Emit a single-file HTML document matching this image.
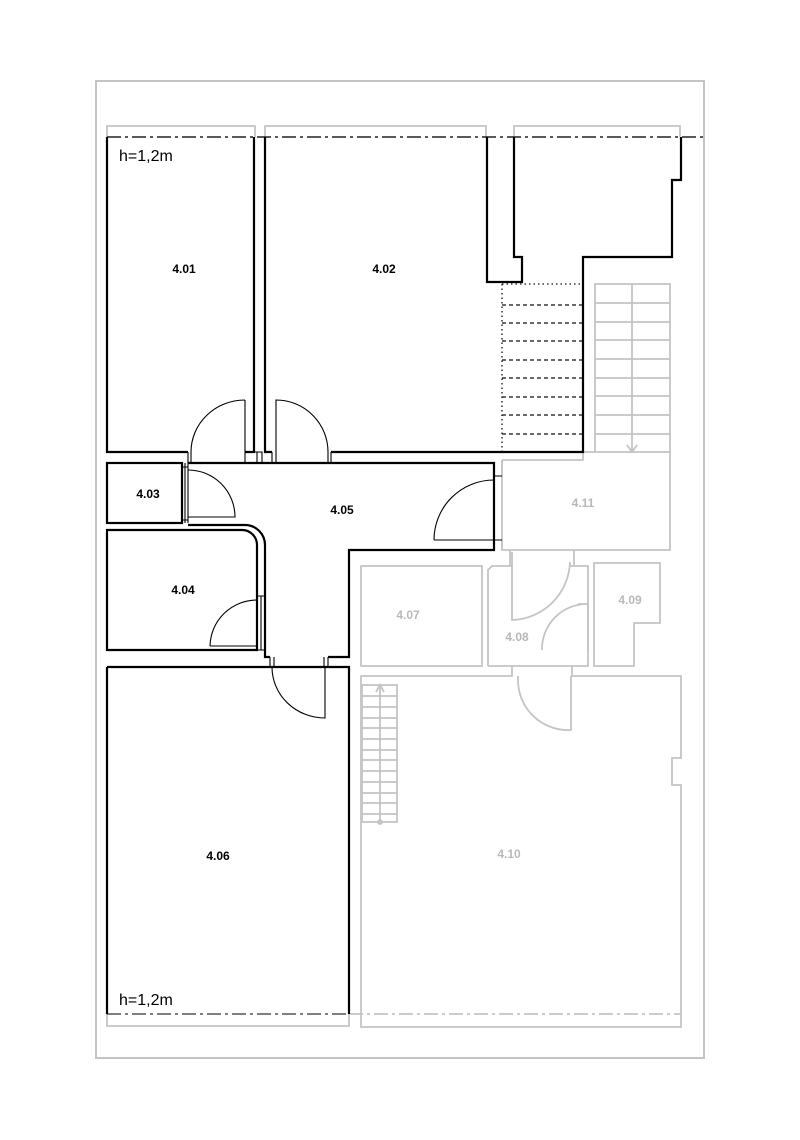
<!DOCTYPE html>
<html><head><meta charset="utf-8"><style>html,body{margin:0;padding:0;background:#fff}svg{display:block}</style></head>
<body>
<svg width="800" height="1140" viewBox="0 0 800 1140" xmlns="http://www.w3.org/2000/svg" font-family="Liberation Sans, sans-serif">
<rect x="96" y="81" width="608" height="977" fill="none" stroke="#c4c4c4" stroke-width="2"/>
<g fill="none" stroke="#c4c4c4" stroke-width="1.8">
<path d="M107 137V126H255V137M265 137V126H486V137M514 137V126H680V137"/>
<path d="M107 1014V1026H349V1014"/>
<rect x="595" y="284" width="75" height="168"/>
<path d="M595 303H670M595 322H670M595 340H670M595 359H670M595 378H670M595 396H670M595 415H670M595 434H670"/>
<path d="M632 284V452M627 445L632 452L637 445"/>
<path d="M583 452H595M502 460H583V452M670 452V550H502V460"/>
<path d="M502 460V476M502 540V550"/>
<rect x="361" y="566" width="121" height="100"/>
<path d="M488 666V570L492 566H512M570 566H588V666H488"/>
<path d="M510 550V566M574 550V566"/>
<path d="M512 552V620A60 60 0 0 0 570 562"/>
<path d="M588 604V650M588 604H578M542 650A45 45 0 0 1 588 604"/>
<path d="M594 666V563H660V623H634V666Z"/>
<path d="M572 666V676H681V758H672V785H681V1027H361V676H512V666"/>
<path d="M518 676V680A50 50 0 0 0 571 730V676"/>
<rect x="362" y="685" width="35" height="137"/>
<path d="M362 696H397M362 707H397M362 718H397M362 728H397M362 739H397M362 750H397M362 760H397M362 771H397M362 782H397M362 793H397M362 803H397M362 814H397"/>
<path d="M380 822V685M376 692L380 685L384 692"/>
<circle cx="380" cy="822" r="2"/>
<path d="M349 1014H681" stroke-dasharray="14 4 3 4"/>
</g>
<path d="M107 137H704" stroke="#222" stroke-width="1.6" fill="none" stroke-dasharray="14 4 3 4"/>
<path d="M107 1014H349" stroke="#555" stroke-width="1.6" fill="none" stroke-dasharray="14 4 3 4"/>
<g stroke="#111" stroke-width="1.3" fill="none">
<path d="M502 284V452" stroke-dasharray="1.5 3"/>
<path d="M502 284H583" stroke-dasharray="1.5 3"/>
<path d="M502 305H583M502 323H583M502 341H583M502 360H583M502 378H583M502 397H583M502 415H583M502 434H583" stroke-dasharray="4 3"/>
</g>
<g fill="none" stroke="#000" stroke-width="2.2">
<path d="M107 137V452H188M245 452H254V137"/>
<path d="M265 137V452H272M331 452H583V257H672V180H681V137"/>
<path d="M487 137V282H522V257H514V137"/>
<path d="M188 463H494V550H349V657H328M270 657H265V545A20 20 0 0 0 245 525H188"/>
<rect x="107" y="463" width="75" height="60"/>
<path d="M257 600V650H107V530H242A15 15 0 0 1 257 545V600"/>
<path d="M107 667H349V1014M107 667V1014"/>
</g>
<g fill="none" stroke="#000" stroke-width="1.1">
<path d="M188 452V463M191 452V463M245 452V463M191 463H245M248 452H262V463M257 463V452"/>
<path d="M245 452V400M191 452A54 52 0 0 1 245 400"/>
<path d="M272 452V463M276 452V463M331 452V463M328 452V463M276 463H328"/>
<path d="M276 452V400A52 52 0 0 1 328 452"/>
<path d="M182 467H188M182 520H188M188 463V523M185 463V523"/>
<path d="M188 517H235A47 47 0 0 0 188 470"/>
<path d="M257 596H265M257 650H265M261 596V650"/>
<path d="M210 646H257V600A47 47 0 0 0 210 646"/>
<path d="M494 476H502M494 540H502"/>
<path d="M434 540H494V480A60 60 0 0 0 434 540"/>
<path d="M270 657V667M274 657V667M328 657V667M324 657V667M274 667H324"/>
<path d="M325 667V718A53 51 0 0 1 272 667"/>
</g>
<g font-weight="bold" font-size="12" fill="#000" text-anchor="middle">
<text x="184" y="273">4.01</text>
<text x="384" y="273">4.02</text>
<text x="148" y="498">4.03</text>
<text x="183" y="594">4.04</text>
<text x="342" y="514">4.05</text>
<text x="218" y="860">4.06</text>
</g>
<g font-size="12" fill="#b8b8b8" text-anchor="middle" font-weight="bold">
<text x="408" y="619">4.07</text>
<text x="517" y="641">4.08</text>
<text x="630" y="604">4.09</text>
<text x="509" y="858">4.10</text>
<text x="583" y="507">4.11</text>
</g>
<g font-size="16" fill="#000">
<text x="119" y="161">h=1,2m</text>
<text x="119" y="1005">h=1,2m</text>
</g>
</svg>
</body></html>
